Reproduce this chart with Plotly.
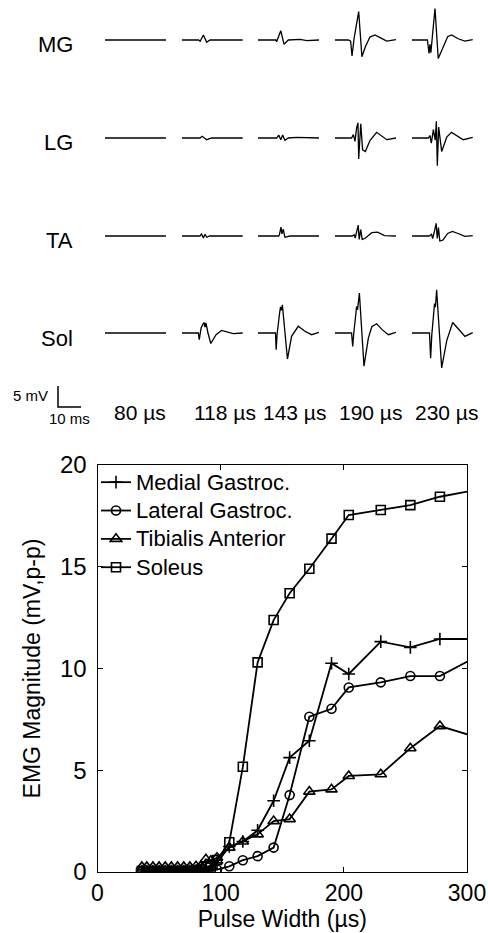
import plotly.graph_objects as go

# ---------------------------------------------------------------------------
# Recruitment curve: pulse width (µs) vs peak-to-peak EMG magnitude (mV)
# ---------------------------------------------------------------------------
pulse_width = [36, 40, 45, 50, 55, 60, 65, 70, 75, 80, 84, 88, 92, 97,
               107, 118, 130, 143, 156, 172, 190, 204, 230, 254, 278, 320]

medial_gastroc = [0.05, 0.05, 0.05, 0.05, 0.05, 0.05, 0.05, 0.05, 0.06, 0.06,
                  0.08, 0.12, 0.20, 0.45, 1.25, 1.50, 2.05, 3.50, 5.62, 6.45,
                  10.26, 9.73, 11.32, 11.04, 11.45, 11.45]
lateral_gastroc = [0.03, 0.03, 0.03, 0.03, 0.03, 0.03, 0.03, 0.03, 0.04, 0.04,
                   0.05, 0.06, 0.08, 0.12, 0.28, 0.58, 0.78, 1.20, 3.78, 7.63,
                   8.02, 9.07, 9.32, 9.63, 9.63, 10.97]
tibialis_anterior = [0.25, 0.25, 0.25, 0.25, 0.25, 0.25, 0.25, 0.25, 0.25, 0.28,
                     0.30, 0.62, 0.55, 0.70, 1.20, 1.50, 1.85, 2.50, 2.60, 3.95,
                     4.06, 4.72, 4.80, 6.08, 7.17, 6.40]
soleus = [0.05, 0.05, 0.05, 0.05, 0.05, 0.05, 0.05, 0.05, 0.06, 0.08,
          0.12, 0.25, 0.30, 0.59, 1.46, 5.17, 10.30, 12.38, 13.70, 14.90,
          16.38, 17.54, 17.79, 18.03, 18.44, 18.92]

series_names = ["Medial Gastroc.", "Lateral Gastroc.", "Tibialis Anterior", "Soleus"]
x_ticks = [0, 100, 200, 300]
y_ticks = [0, 5, 10, 15, 20]

# ---------------------------------------------------------------------------
# Example M-waves: (time in ms, amplitude in mV) for each muscle at each
# sample pulse width
# ---------------------------------------------------------------------------
muscles = ["MG", "LG", "TA", "Sol"]
sample_widths = ["80 \u00b5s", "118 \u00b5s", "143 \u00b5s", "190 \u00b5s", "230 \u00b5s"]

mg_waves = [
    [(0, 0), (26.5, 0)],
    [(0, 0), (7.2, 0), (7.9, -0.3), (9.3, 1.2), (10.7, -0.55), (12.2, 0), (26.4, 0)],
    [(0, 0), (7.8, 0), (8.1, -0.4), (9.9, 2.2), (11.3, -1.0), (13.2, 0), (18.3, 0.16),
     (21.2, -0.16), (26.5, 0)],
    [(0, 0), (5.8, 0), (6.8, -0.3), (7.4, -3.8), (8.3, 0.4), (10.3, 6.75), (11.7, -4.0),
     (13.2, -1.6), (15.2, 0.7), (17.4, 1.2), (19.8, 0.5), (22.5, -0.25), (26.5, 0.1)],
    [(0, 0), (6.7, 0), (7.4, -3.2), (7.8, -1.0), (8.2, -3.0), (8.6, -0.5), (10.0, 7.5),
     (11.4, -4.4), (13.6, -1.4), (15.5, 0.8), (17.2, 1.2), (20.1, 0.3), (23.0, -0.25),
     (26.4, 0.1)],
]
lg_waves = [
    [(0, 0), (9.0, 0), (9.3, 0.15), (9.6, 0), (26.5, 0)],
    [(0, 0), (7.8, 0), (8.8, 0.4), (9.5, 0.1), (10.7, -0.4), (12.9, 0), (26.4, 0)],
    [(0, 0), (8.1, 0), (9.0, 0.7), (9.9, -0.4), (10.7, 0.7), (11.7, -0.56), (13.2, 0),
     (16.8, 0.15), (26.5, 0)],
    [(0, 0), (7.2, 0), (8.0, 0.8), (8.7, -0.8), (9.4, 2.4), (10.0, 3.6), (10.3, -5.0),
     (10.7, -1.0), (11.2, 3.4), (12.0, -2.8), (13.2, -3.2), (15.2, -0.6), (18.1, 1.35),
     (22.5, -0.4), (26.5, 0)],
    [(0, 0), (7.1, 0), (7.8, 0.6), (8.4, -1.2), (9.3, 2.0), (10.1, -0.5), (10.6, 4.0),
     (11.0, -6.6), (11.6, 2.6), (12.9, -3.2), (15.1, 0.2), (17.2, 1.35), (22.3, -0.4),
     (26.4, 0.15)],
]
ta_waves = [
    [(0, 0), (26.5, 0)],
    [(0, 0), (7.8, 0), (8.5, 0.5), (9.3, -0.5), (10.0, 0.4), (10.8, -0.3), (12.0, 0),
     (26.4, 0)],
    [(0, 0), (9.0, 0), (9.3, 0.3), (10.0, 2.1), (10.4, 0.5), (11.0, 1.6), (11.7, -0.3),
     (13.9, 0), (26.5, 0)],
    [(0, 0), (7.5, 0), (8.3, 0.3), (8.8, -0.5), (9.4, 1.0), (10.1, 2.6), (10.5, -0.8),
     (11.2, 1.5), (11.8, -0.8), (13.0, -0.6), (16.0, 0.8), (18.5, 0.9), (21.5, 0.1),
     (26.5, 0)],
    [(0, 0), (7.5, 0), (8.5, 0.4), (9.0, -0.6), (9.8, 1.2), (10.5, 3.0), (11.0, -0.6),
     (11.5, 2.0), (12.1, -1.2), (13.4, -1.0), (15.5, 0.6), (17.6, 1.1), (20.0, 0.6),
     (23.0, -0.1), (26.4, 0.1)],
]
sol_waves = [
    [(0, 0), (26.5, 0)],
    [(0, 0), (7.1, 0), (7.5, -1.6), (8.3, 1.2), (9.0, 2.0), (9.6, 2.5), (10.0, 1.4),
     (10.4, 2.4), (11.3, 0), (12.5, -2.5), (14.8, -0.4), (17.2, 0.6), (22.3, -0.16),
     (26.4, 0)],
    [(0, 0), (7.6, 0), (7.9, -4.0), (8.3, -0.3), (9.4, 4.8), (9.8, 6.2), (10.2, 5.4),
     (10.6, 6.7), (12.8, -6.2), (14.6, -0.8), (17.5, 1.6), (20.4, 0.4), (23.3, -0.4),
     (26.5, 0.15)],
    [(0, 0), (7.2, 0), (7.7, -3.2), (8.1, -0.4), (9.4, 6.3), (9.8, 5.5), (10.6, 9.5),
     (12.6, -7.9), (14.5, -1.2), (16.0, 1.5), (18.1, 2.2), (20.5, 0.8), (23.2, -0.4),
     (26.5, 0.15)],
    [(0, 0), (7.6, 0), (8.1, -6.0), (8.6, -0.5), (9.8, 7.0), (10.2, 6.2), (10.7, 10.3),
     (12.9, -8.3), (15.1, -1.8), (17.7, 2.5), (20.1, 1.0), (23.0, -0.8), (26.4, 0.1)],
]
all_waves = [mg_waves, lg_waves, ta_waves, sol_waves]

# Calibration bar (ms, mV)
scale_bar_ms = [0, 0, 10]
scale_bar_mv = [5, 0, 0]

# ---------------------------------------------------------------------------
# Page geometry (pixels)
# ---------------------------------------------------------------------------
W, H = 488, 933
FONT = "Liberation Sans, Arial, Helvetica, sans-serif"


def px_x(x):
    return x / W


def px_y(y):
    return 1 - y / H


PX_PER_MS = 2.3
PX_PER_MV = 4.2
COL_LEFT = [105, 182, 258, 335, 412]
COL_WIDTH = 61
ROW_BASE = [40, 138, 236, 333]

fig = go.Figure()
layout_axes = {}

# Example waveform panels
idx = 2
for r, waves in enumerate(all_waves):
    base = ROW_BASE[r]
    up = min(46, base - 1)
    down = 46
    for c, wave in enumerate(waves):
        xa, ya = f"x{idx}", f"y{idx}"
        layout_axes[f"xaxis{idx}"] = dict(
            domain=[px_x(COL_LEFT[c]), px_x(COL_LEFT[c] + COL_WIDTH)],
            range=[0, COL_WIDTH / PX_PER_MS], visible=False, anchor=ya,
            fixedrange=True, automargin=False)
        layout_axes[f"yaxis{idx}"] = dict(
            domain=[px_y(base + down), px_y(base - up)],
            range=[-down / PX_PER_MV, up / PX_PER_MV], visible=False, anchor=xa,
            fixedrange=True, automargin=False)
        fig.add_trace(go.Scatter(
            x=[p[0] for p in wave], y=[p[1] for p in wave], xaxis=xa, yaxis=ya,
            mode="lines", line=dict(color="black", width=1.3),
            showlegend=False, hoverinfo="skip"))
        idx += 1

# Calibration bar panel
sb = idx
bar_origin_x, bar_origin_y = 58, 407
layout_axes[f"xaxis{sb}"] = dict(
    domain=[px_x(50), px_x(100)],
    range=[(50 - bar_origin_x) / PX_PER_MS, (100 - bar_origin_x) / PX_PER_MS],
    visible=False, anchor=f"y{sb}", fixedrange=True, automargin=False)
layout_axes[f"yaxis{sb}"] = dict(
    domain=[px_y(412), px_y(375)],
    range=[-(412 - bar_origin_y) / PX_PER_MV, (bar_origin_y - 375) / PX_PER_MV],
    visible=False, anchor=f"x{sb}", fixedrange=True, automargin=False)
fig.add_trace(go.Scatter(
    x=scale_bar_ms, y=scale_bar_mv, xaxis=f"x{sb}", yaxis=f"y{sb}",
    mode="lines", line=dict(color="black", width=1.5),
    showlegend=False, hoverinfo="skip"))

# Recruitment curves
series_values = [medial_gastroc, lateral_gastroc, tibialis_anterior, soleus]
symbols = ["cross-thin-open", "circle-open", "triangle-up-open", "square-open"]
sizes = [9, 9, 10, 9]
for name, vals, sym, sz in zip(series_names, series_values, symbols, sizes):
    fig.add_trace(go.Scatter(
        x=pulse_width, y=vals, name=f'<span style="font-size:22px">{name}</span>',
        mode="lines+markers",
        line=dict(color="black", width=1.8),
        marker=dict(symbol=sym, size=sz, color="black",
                    line=dict(color="black", width=1.6)),
        xaxis="x", yaxis="y"))

annotations = []
for r, label in enumerate(muscles):
    annotations.append(dict(
        text=label, x=px_x(75), y=px_y(ROW_BASE[r] + 5), xref="paper", yref="paper",
        xanchor="right", yanchor="middle", showarrow=False,
        font=dict(family=FONT, size=22, color="black")))

label_left = [112, 192, 261, 337, 413]
for c, label in enumerate(sample_widths):
    annotations.append(dict(
        text=label, x=px_x(label_left[c]), y=px_y(413), xref="paper", yref="paper",
        xanchor="left", yanchor="middle", showarrow=False,
        font=dict(family=FONT, size=21, color="black")))

annotations.append(dict(
    text="5 mV", x=px_x(50), y=px_y(395), xref="paper", yref="paper",
    xanchor="right", yanchor="middle", showarrow=False,
    font=dict(family=FONT, size=15, color="black")))
annotations.append(dict(
    text="10 ms", x=px_x(69.5), y=px_y(418), xref="paper", yref="paper",
    xanchor="center", yanchor="middle", showarrow=False,
    font=dict(family=FONT, size=15, color="black")))

axis_common = dict(
    showline=True, linecolor="black", linewidth=1, mirror="allticks",
    ticks="inside", ticklen=5, tickcolor="black", showgrid=False, zeroline=False,
    fixedrange=True, automargin=False)

fig.update_layout(
    template="none",
    width=W, height=H,
    margin=dict(l=0, r=0, t=0, b=0, pad=0),
    paper_bgcolor="white", plot_bgcolor="white",
    font=dict(family=FONT, color="black"),
    xaxis=dict(domain=[px_x(97.5), px_x(467)], range=[0, 300], tickvals=x_ticks,
               tickfont=dict(family=FONT, size=23, color="black"),
               title=dict(text="Pulse Width (\u00b5s)", standoff=4,
                          font=dict(family=FONT, size=23, color="black")),
               anchor="y", **axis_common),
    yaxis=dict(domain=[px_y(872), px_y(465)], range=[0, 20], tickvals=y_ticks,
               tickfont=dict(family=FONT, size=24, color="black"),
               title=dict(text="EMG Magnitude (mV,p-p)", standoff=12,
                          font=dict(family=FONT, size=23, color="black")),
               ticklabelstandoff=5, anchor="x", **axis_common),
    legend=dict(x=px_x(96), y=px_y(463), xanchor="left", yanchor="top",
                bgcolor="rgba(0,0,0,0)", borderwidth=0, tracegroupgap=0,
                font=dict(family=FONT, size=19.5, color="black")),
    annotations=annotations,
    showlegend=True,
    **layout_axes,
)

fig.write_html("out.html")
